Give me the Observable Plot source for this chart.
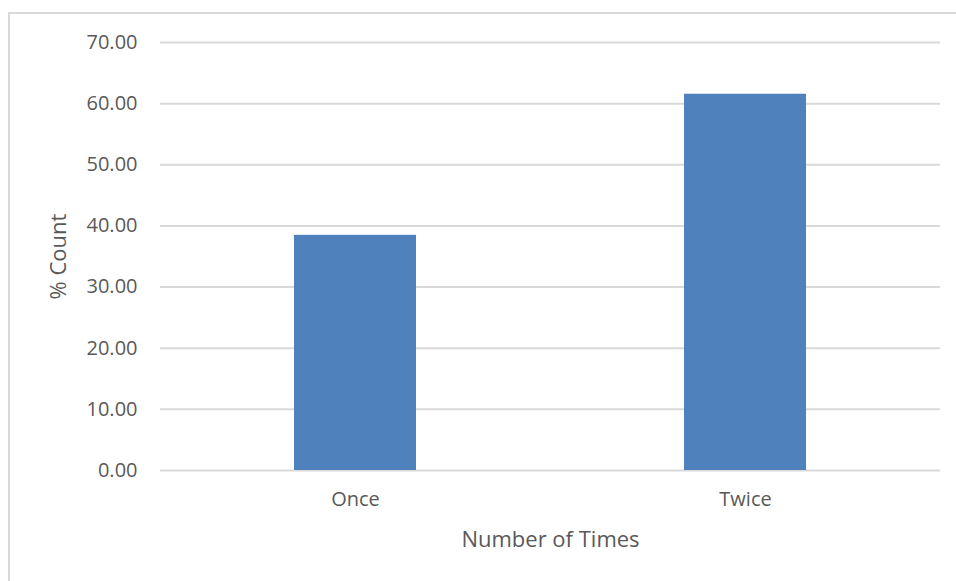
<!DOCTYPE html>
<html>
<head>
<meta charset="utf-8">
<script src="https://cdn.jsdelivr.net/npm/d3@7"></script>
<script src="https://cdn.jsdelivr.net/npm/@observablehq/plot@0.6"></script>
<style>
  html, body { margin: 0; padding: 0; background: #fff; overflow: hidden; }
  #wrap { position: relative; width: 956px; height: 581px; }
  #frame { position: absolute; left: 8px; top: 12px; width: 1200px; height: 1200px;
           border: 2px solid #d9d9d9; box-sizing: border-box; pointer-events: none; }
  #chart { position: absolute; left: 0; top: 0; }
</style>
</head>
<body>
<div id="wrap"><div id="frame"></div><div id="chart"></div></div>
<script>
const categories = ["Once", "Twice"];
const values = [38.46, 61.54];
const yTicks = [0, 10, 20, 30, 40, 50, 60, 70];

const data = categories.map((c, i) => ({category: c, value: values[i]}));
const font = "'Open Sans', sans-serif";

const chart = Plot.plot({
  width: 956,
  height: 581,
  marginLeft: 160,
  marginRight: 16,
  marginTop: 42,
  marginBottom: 111,
  style: {fontFamily: font, fontSize: "20px", color: "#595959", background: "transparent"},
  x: {domain: categories, paddingInner: 0.686, paddingOuter: 0.343, label: null},
  y: {domain: [0, 70], label: null},
  marks: [
    Plot.gridY(yTicks, {stroke: "#d9d9d9", strokeOpacity: 1, strokeWidth: 2}),
    Plot.barY(data, {x: "category", y: "value", fill: "#4f81bd"}),
    Plot.axisY(yTicks, {tickSize: 0, tickPadding: 23, tickFormat: d => d.toFixed(2), fill: "#595959", fontSize: 20}),
    Plot.axisX({tickSize: 0, tickPadding: 21, fill: "#595959", fontSize: 20, label: null}),
    Plot.text(["Number of Times"], {frameAnchor: "bottom", lineAnchor: "middle", textAnchor: "middle", dy: 69, fill: "#595959", fontSize: 22}),
    Plot.text(["% Count"], {frameAnchor: "left", lineAnchor: "middle", textAnchor: "middle", dx: -102, rotate: -90, fill: "#595959", fontSize: 22})
  ]
});
document.getElementById("chart").appendChild(chart);
</script>
</body>
</html>
